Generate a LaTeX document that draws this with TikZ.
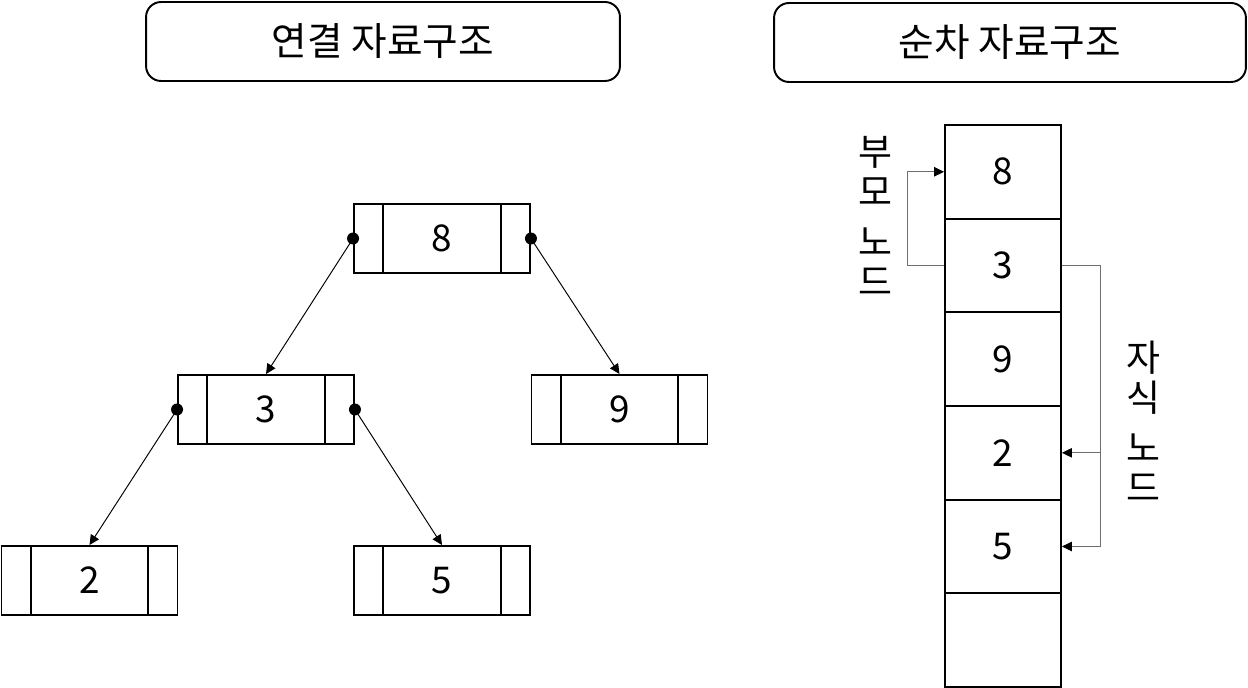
\documentclass[tikz,border=0pt]{standalone}
\usepackage{fontspec}
\setmainfont{Noto Sans CJK KR}
\usepackage{xcolor}
\definecolor{linkgray}{HTML}{6E6E6E}
\usetikzlibrary{arrows.meta,positioning,calc}

\tikzset{
  titlebox/.style={draw,line width=1.1pt,rounded corners=0.3cm,minimum height=1.58cm,font=\fontsize{22}{26}\selectfont},
  treenode/.style={draw,line width=1.1pt,minimum width=3.52cm,minimum height=1.38cm,font=\fontsize{21}{25}\selectfont},
  cellbox/.style={draw,line width=1.1pt,minimum width=2.32cm,minimum height=1.874cm,font=\fontsize{21}{25}\selectfont},
  ptr/.style={line width=0.55pt,-{Triangle[length=2mm,width=1.9mm]}},
  idx/.style={line width=0.6pt,draw=linkgray,-{Triangle[length=2mm,width=1.9mm,color=black]}},
  vlabel/.style={align=center,font=\fontsize{21}{22.7}\selectfont}
}

\begin{document}
\begin{tikzpicture}[x=0.02cm,y=-0.02cm]
  \useasboundingbox (0,0) rectangle (1248,688);
  % Titles
  \node[titlebox,minimum width=9.48cm] (tleft) at (383,41.5) {연결 자료구조};
  \node[titlebox,minimum width=9.44cm] (tright) at (1010,42.5) {순차 자료구조};
  % Linked tree
  \foreach \name/\val/\x/\y in {n8/8/442/238.5, n3/3/266/409.5, n9/9/619.5/409.5, n2/2/89.5/580.5, n5/5/442/580.5} {
    \node[treenode] (\name) at (\x,\y) {\val};
    \draw[line width=1.1pt] ([xshift=0.6cm]\name.north west) -- ([xshift=0.6cm]\name.south west);
    \draw[line width=1.1pt] ([xshift=-0.6cm]\name.north east) -- ([xshift=-0.6cm]\name.south east);
  }
  \foreach \p/\c/\s in {n8/n3/west, n8/n9/east, n3/n2/west, n3/n5/east} {
    \fill (\p.\s) circle (0.12cm);
    \draw[ptr] (\p.\s) -- (\c.north);
  }
  % Sequential array
  \foreach \i/\v in {0/8, 1/3, 2/9, 3/2, 4/5, 5/{}} {
    \node[cellbox] (c\i) at (1003,171.8+93.67*\i) {\v};
  }
  \draw[idx] (c1.west) -- ++(-37,0) |- (c0.west);
  \draw[line width=0.6pt,linkgray] (c1.east) -- ++(39,0) coordinate (kid);
  \draw[idx] (kid) |- (c3.east);
  \draw[idx] (kid) |- (c4.east);
  \node[vlabel] (parent) at (875,216) {부\\모\\[6pt]노\\드};
  \node[vlabel] (child) at (1143,421) {자\\식\\[6pt]노\\드};
\end{tikzpicture}
\end{document}
